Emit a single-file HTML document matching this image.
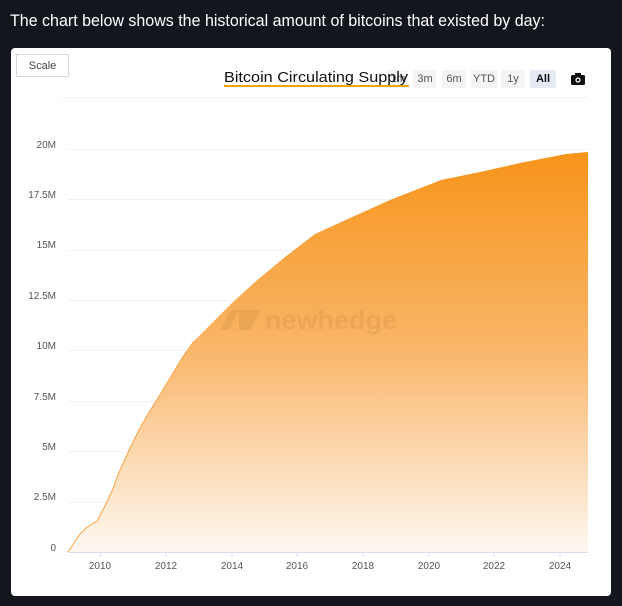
<!DOCTYPE html>
<html><head><meta charset="utf-8"><style>
html,body{margin:0;padding:0;background:#13161d;width:622px;height:606px;overflow:hidden}
svg{display:block}
</style></head><body>
<svg width="622" height="606" viewBox="0 0 622 606" xmlns="http://www.w3.org/2000/svg" font-family="Liberation Sans, sans-serif">
<defs>
<linearGradient id="g" x1="0" y1="150" x2="0" y2="552" gradientUnits="userSpaceOnUse">
<stop offset="0" stop-color="#f7931a"/>
<stop offset="0.5" stop-color="#f9b66a"/>
<stop offset="1" stop-color="#fef8f1"/>
</linearGradient>
</defs>
<rect width="622" height="606" fill="#13161d"/>
<text x="10" y="26" font-size="16.3" fill="#ffffff" textLength="535" lengthAdjust="spacingAndGlyphs">The chart below shows the historical amount of bitcoins that existed by day:</text>
<rect x="11" y="48" width="600" height="548" rx="4" fill="#ffffff"/>
<rect x="16.5" y="54.5" width="52" height="22" fill="#fff" stroke="#d9d9d9"/>
<text x="42.5" y="69" font-size="11" fill="#444" text-anchor="middle">Scale</text>
<rect x="388" y="70" width="20" height="18" rx="2" fill="#f3f4f6"/>
<text x="398" y="82" font-size="11" fill="#555" text-anchor="middle">1m</text>
<rect x="413" y="70" width="23" height="18" rx="2" fill="#f3f4f6"/>
<text x="425" y="82" font-size="11" fill="#555" text-anchor="middle">3m</text>
<rect x="442" y="70" width="24" height="18" rx="2" fill="#f3f4f6"/>
<text x="454" y="82" font-size="11" fill="#555" text-anchor="middle">6m</text>
<rect x="471" y="70" width="26" height="18" rx="2" fill="#f3f4f6"/>
<text x="484" y="82" font-size="11" fill="#555" text-anchor="middle">YTD</text>
<rect x="501" y="70" width="24" height="18" rx="2" fill="#f3f4f6"/>
<text x="513" y="82" font-size="11" fill="#555" text-anchor="middle">1y</text>
<rect x="530" y="70" width="26" height="18" rx="2" fill="#e6eaf5"/>
<text x="543" y="82" font-size="11" fill="#111" font-weight="bold" text-anchor="middle">All</text>
<rect x="571" y="75" width="14" height="10" rx="1.5" fill="#111"/>
<rect x="575" y="73" width="6" height="3" fill="#111"/>
<circle cx="578" cy="80" r="2.6" fill="#fff"/>
<circle cx="578" cy="80" r="1.4" fill="#111"/>
<text x="224" y="82" font-size="15" fill="#111" textLength="184" lengthAdjust="spacingAndGlyphs">Bitcoin Circulating Supply</text>
<rect x="224" y="85" width="185" height="2" fill="#f0a800"/>
<g stroke="#f2f2f2" stroke-width="1">
<line x1="61" y1="97.5" x2="588" y2="97.5"/>
<line x1="68" y1="149.5" x2="588" y2="149.5"/>
<line x1="68" y1="199.5" x2="588" y2="199.5"/>
<line x1="68" y1="250.5" x2="588" y2="250.5"/>
<line x1="68" y1="300.5" x2="588" y2="300.5"/>
<line x1="68" y1="350.5" x2="588" y2="350.5"/>
<line x1="68" y1="401.5" x2="588" y2="401.5"/>
<line x1="68" y1="451.5" x2="588" y2="451.5"/>
<line x1="68" y1="502.5" x2="588" y2="502.5"/>
</g>
<g font-size="10" fill="#555" text-anchor="end">
<text x="56" y="148">20M</text>
<text x="56" y="198">17.5M</text>
<text x="56" y="248">15M</text>
<text x="56" y="299">12.5M</text>
<text x="56" y="349">10M</text>
<text x="56" y="400">7.5M</text>
<text x="56" y="450">5M</text>
<text x="56" y="500">2.5M</text>
<text x="56" y="551">0</text>
</g>
<polygon fill="url(#g)" points="68,552 74,543 80,534 86,528 97,521 104,508 112,491 120,470 130,448 140,428 148,414 158,398 170,378 182,358 194,341 212,323 232,303 255,282 285,257 315,234 350,218 390,200 441,180 480,172 520,163 566,154 588,152 588,552"/>
<polyline fill="none" stroke="#f7a54a" stroke-width="1" points="68,552 74,543 80,534 86,528 97,521 104,508 112,491 120,470 130,448 140,428 148,414 158,398 170,378 182,358 194,341"/>
<g opacity="0.28" fill="#c98a3c">
<polygon points="221,330 230,310 238,310 229,330"/>
<polygon points="239,330 239,310 261,310 250,330"/>
<text x="265" y="329" font-size="27" font-weight="bold">newhedge</text>
</g>
<line x1="68" y1="552.5" x2="588" y2="552.5" stroke="#d8deee" stroke-width="1"/>
<g stroke="#d8deee"><line x1="100.5" y1="552" x2="100.5" y2="557"/><line x1="166" y1="552" x2="166" y2="557"/><line x1="232" y1="552" x2="232" y2="557"/><line x1="297" y1="552" x2="297" y2="557"/><line x1="363" y1="552" x2="363" y2="557"/><line x1="429" y1="552" x2="429" y2="557"/><line x1="494" y1="552" x2="494" y2="557"/><line x1="560" y1="552" x2="560" y2="557"/></g>
<g font-size="10" fill="#555" text-anchor="middle">
<text x="100" y="569">2010</text>
<text x="166" y="569">2012</text>
<text x="232" y="569">2014</text>
<text x="297" y="569">2016</text>
<text x="363" y="569">2018</text>
<text x="429" y="569">2020</text>
<text x="494" y="569">2022</text>
<text x="560" y="569">2024</text>
</g>
</svg>
</body></html>
